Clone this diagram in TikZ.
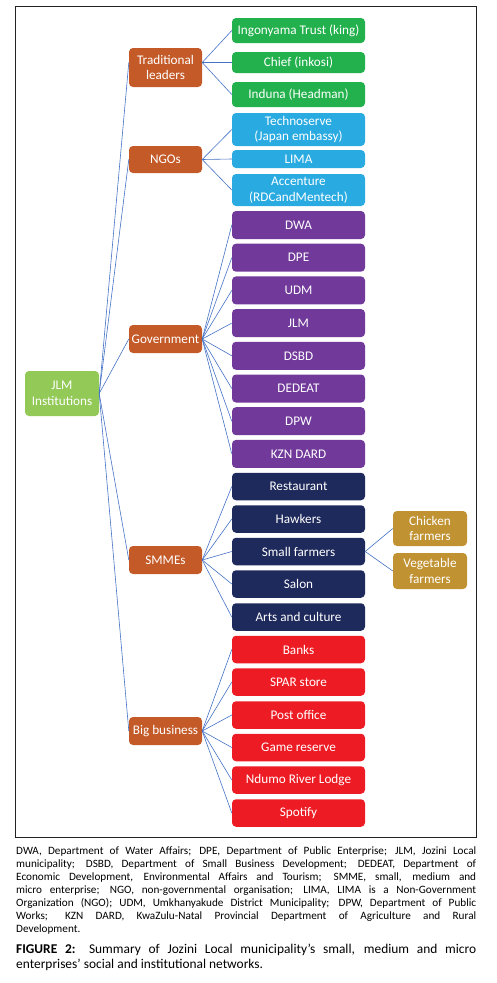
\documentclass[tikz,border=0pt]{standalone}
\usepackage{fontspec}
\setmainfont{Carlito}
\definecolor{cgreen}{HTML}{22B14C}
\definecolor{cblue}{HTML}{29ABE2}
\definecolor{cpurple}{HTML}{70399A}
\definecolor{cnavy}{HTML}{1F2A5C}
\definecolor{cred}{HTML}{ED1C24}
\definecolor{corange}{HTML}{C45A28}
\definecolor{croot}{HTML}{92C957}
\definecolor{cgold}{HTML}{C09232}
\definecolor{cline}{HTML}{4472C4}
\definecolor{cframe}{HTML}{222222}
\begin{document}
\begin{tikzpicture}[x=1pt,y=-1pt,
  box/.style={rectangle,rounded corners=4pt,draw=none,text=white,align=center,inner sep=0pt,
    font=\fontsize{13.2}{15.5}\selectfont},
  leaf/.style={box,minimum width=133pt,minimum height=27.5pt},
  cat/.style={box,fill=corange,minimum width=73pt,minimum height=28pt},
  gold/.style={box,fill=cgold,minimum width=74pt,minimum height=35pt},
  link/.style={draw=cline,line width=0.6pt}]
\useasboundingbox (0,0) rectangle (496,983);
\draw[cframe,line width=1pt] (15.5,6) rectangle (476,837);
% root
\node[box,fill=croot,minimum width=74pt,minimum height=45pt] (root) at (62,393.5) {JLM\\Institutions};
% categories
\node[cat,minimum height=39pt] (tl) at (165.5,67.5) {Traditional\\leaders};
\node[cat,minimum height=27pt] (ngo) at (165.5,159.5) {NGOs};
\node[cat] (gov) at (165.5,339) {Government};
\node[cat] (smme) at (165.5,560) {SMMEs};
\node[cat] (big) at (165.5,731) {Big business};
% traditional
\node[leaf,fill=cgreen,minimum height=25pt] (ing) at (298.5,30.5) {Ingonyama Trust (king)};
\node[leaf,fill=cgreen,minimum height=21pt] (chief) at (298.5,62.5) {Chief (inkosi)};
\node[leaf,fill=cgreen,minimum height=25pt] (induna) at (298.5,94.5) {Induna (Headman)};
% ngos
\node[leaf,fill=cblue,minimum height=33pt] (techno) at (298.5,129.5) {Technoserve\\(Japan embassy)};
\node[leaf,fill=cblue,minimum height=18pt] (lima) at (298.5,159) {LIMA};
\node[leaf,fill=cblue,minimum height=32pt] (acc) at (298.5,190) {Accenture\\(RDCandMentech)};
% government
\node[leaf,fill=cpurple,minimum height=28pt] (dwa) at (298.5,225) {DWA};
\node[leaf,fill=cpurple,minimum height=28pt] (dpe) at (298.5,257.7) {DPE};
\node[leaf,fill=cpurple,minimum height=28pt] (udm) at (298.5,290.4) {UDM};
\node[leaf,fill=cpurple,minimum height=28pt] (jlm) at (298.5,323.1) {JLM};
\node[leaf,fill=cpurple,minimum height=28pt] (dsbd) at (298.5,355.8) {DSBD};
\node[leaf,fill=cpurple,minimum height=28pt] (dedeat) at (298.5,388.5) {DEDEAT};
\node[leaf,fill=cpurple,minimum height=28pt] (dpw) at (298.5,421.2) {DPW};
\node[leaf,fill=cpurple,minimum height=28pt] (kzn) at (298.5,453.9) {KZN DARD};
% smmes
\node[leaf,fill=cnavy] (rest) at (298.5,486.5) {Restaurant};
\node[leaf,fill=cnavy] (hawk) at (298.5,519) {Hawkers};
\node[leaf,fill=cnavy] (small) at (298.5,551.5) {Small farmers};
\node[leaf,fill=cnavy] (salon) at (298.5,584) {Salon};
\node[leaf,fill=cnavy] (arts) at (298.5,617) {Arts and culture};
% big business
\node[leaf,fill=cred] (banks) at (298.5,649.5) {Banks};
\node[leaf,fill=cred] (spar) at (298.5,682) {SPAR store};
\node[leaf,fill=cred] (post) at (298.5,715) {Post office};
\node[leaf,fill=cred] (game) at (298.5,747.5) {Game reserve};
\node[leaf,fill=cred] (ndumo) at (298.5,780) {Ndumo River Lodge};
\node[leaf,fill=cred] (spot) at (298.5,813) {Spotify};
% farmers
\node[gold] (chick) at (430,528.5) {Chicken\\farmers};
\node[gold,minimum height=36pt] (veg) at (430,571) {Vegetable\\farmers};
% links root
\draw[link] (root.east) -- ([yshift=5pt]tl.west);
\draw[link] (root.east) -- (ngo.west);
\draw[link] (root.east) -- (gov.west);
\draw[link] (root.east) -- (smme.west);
\draw[link] (root.east) -- (big.west);
% links categories
\foreach \c in {ing,chief,induna} \draw[link] ([yshift=5pt]tl.east) -- (\c.west);
\foreach \c in {techno,lima,acc} \draw[link] (ngo.east) -- (\c.west);
\foreach \c in {dwa,dpe,udm,jlm,dsbd,dedeat,dpw,kzn} \draw[link] (gov.east) -- (\c.west);
\foreach \c in {rest,hawk,small,salon,arts} \draw[link] (smme.east) -- (\c.west);
\foreach \c in {banks,spar,post,game,ndumo,spot} \draw[link] (big.east) -- (\c.west);
\draw[link] (small.east) -- (chick.west);
\draw[link] (small.east) -- (veg.west);
% caption
\node[anchor=north west,inner sep=0pt,text width=460pt,align=justify,
  font=\fontsize{11.2}{12.95}\selectfont] (notes) at (16,847)
 {DWA, Department of Water Affairs; DPE, Department of Public Enterprise; JLM, Jozini Local\linebreak
 municipality; DSBD, Department of Small Business Development; DEDEAT, Department of\linebreak
 Economic Development, Environmental Affairs and Tourism; SMME, small, medium and\linebreak
 micro enterprise; NGO, non-governmental organisation; LIMA, LIMA is a Non-Government\linebreak
 Organization (NGO); UDM, Umkhanyakude District Municipality; DPW, Department of Public\linebreak
 Works; KZN DARD, KwaZulu-Natal Provincial Department of Agriculture and Rural\linebreak
 Development.};
\node[anchor=north west,inner sep=0pt,text width=460pt,align=justify,
  font=\fontsize{13.4}{15.7}\selectfont] (cap) at (16,943.5)
 {\textbf{FIGURE 2:} Summary of Jozini Local municipality’s small, medium and micro\linebreak
 enterprises’ social and institutional networks.};
\end{tikzpicture}
\end{document}
